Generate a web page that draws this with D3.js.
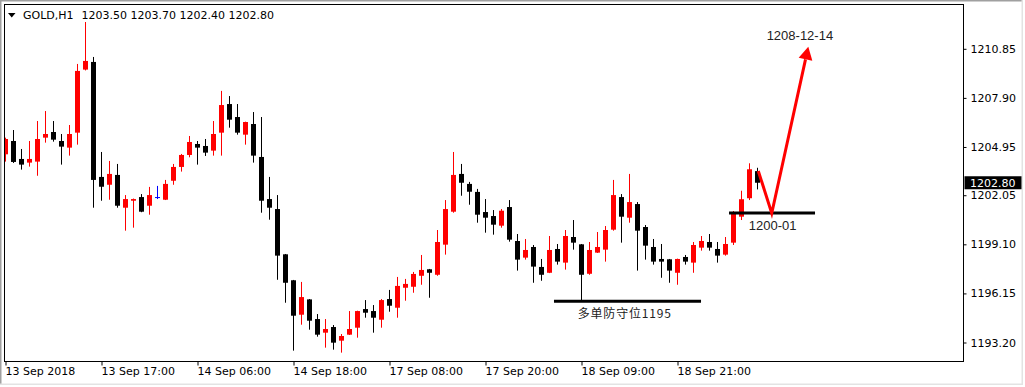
<html>
<head>
<script src="https://cdn.jsdelivr.net/npm/d3@7"></script>
<style>
    body {
        margin: 0;
        background: white;
        font-family: "DejaVu Sans", Tahoma, sans-serif;
    }
    svg {
        display: block;
    }
</style>
</head>
<body>
<svg id="chart"></svg>
<script>
    // GOLD H1 bars, one per hour
    let opens = [1204.51,1205.31,1204.23,1204.01,1204.07,1205.51,1205.85,1205.31,1204.91,1205.81,
        1209.60,1210.06,1203.15,1202.68,1203.27,1201.30,1201.72,1201.94,1201.42,1201.94,
        1201.78,1202.92,1203.75,1204.47,1205.13,1205.01,1204.73,1205.81,1207.53,1206.75,
        1205.69,1206.33,1204.35,1201.82,1201.22,1198.50,1196.94,1194.87,1195.79,1194.61,
        1193.79,1194.13,1193.31,1193.67,1194.09,1195.21,1195.09,1194.57,1195.81,1195.29,
        1196.49,1196.55,1197.21,1197.60,1197.27,1199.08,1201.06,1203.33,1202.73,1202.25,
        1201.04,1200.80,1200.22,1201.34,1199.30,1198.30,1198.94,1197.74,1197.39,1198.82,
        1198.00,1199.54,1199.10,1197.33,1198.60,1198.78,1199.98,1201.94,1200.70,1201.52,
        1200.14,1198.94,1198.22,1198.20,1197.39,1198.34,1198.00,1198.90,1199.24,1198.82,
        1198.48,1199.20,1200.76,1201.87,1203.50]
    let highs = [1205.51,1205.97,1204.83,1205.31,1206.51,1207.11,1206.51,1205.73,1206.27,1209.94,
        1212.46,1210.36,1204.65,1204.11,1203.93,1202.06,1201.85,1202.12,1202.55,1202.61,
        1202.97,1203.93,1204.53,1205.61,1205.31,1205.43,1206.51,1208.32,1208.01,1207.53,
        1206.47,1207.05,1206.75,1203.15,1202.06,1198.52,1196.96,1196.84,1195.81,1194.91,
        1194.61,1194.25,1193.71,1195.09,1195.11,1195.75,1195.45,1195.81,1196.36,1197.14,
        1197.02,1197.44,1198.46,1197.62,1199.96,1201.76,1204.65,1203.93,1202.85,1202.43,
        1201.82,1201.16,1201.22,1201.76,1199.72,1199.42,1199.06,1198.22,1199.60,1199.12,
        1199.96,1200.56,1199.12,1199.24,1199.84,1200.20,1202.97,1202.12,1203.33,1201.64,
        1200.26,1199.42,1199.12,1198.22,1198.24,1198.46,1199.24,1199.60,1199.72,1199.24,
        1199.54,1201.10,1202.32,1203.97,1203.70]
    let lows = [1204.07,1203.99,1203.59,1203.77,1203.22,1205.21,1205.27,1203.89,1204.43,1205.09,
        1209.55,1201.30,1201.72,1201.78,1201.30,1199.92,1200.10,1201.03,1200.88,1201.82,
        1201.76,1202.68,1203.47,1204.33,1203.89,1204.41,1204.43,1204.43,1206.11,1205.69,
        1205.09,1204.01,1201.00,1200.58,1196.97,1195.59,1192.71,1194.27,1193.97,1193.55,
        1192.89,1192.77,1192.59,1193.65,1193.49,1194.69,1193.79,1194.09,1195.05,1194.69,
        1195.71,1196.19,1196.67,1195.89,1197.21,1198.48,1201.00,1202.02,1201.48,1200.40,
        1199.80,1199.68,1200.10,1199.26,1197.52,1198.18,1196.79,1196.91,1197.37,1197.88,
        1197.58,1198.78,1195.71,1197.27,1198.58,1198.06,1199.92,1199.20,1200.40,1197.52,
        1198.18,1197.88,1197.09,1196.79,1196.67,1197.88,1197.39,1198.72,1198.72,1198.00,
        1198.42,1199.06,1200.56,1201.76,1202.40]
    let closes = [1205.43,1204.05,1203.89,1204.23,1205.43,1205.73,1205.39,1204.97,1205.73,1209.52,
        1210.12,1202.97,1202.56,1203.33,1201.42,1201.82,1201.82,1201.06,1202.06,1201.94,
        1202.73,1203.75,1204.47,1205.25,1204.91,1204.61,1205.73,1207.47,1206.59,1205.81,
        1206.45,1204.43,1201.72,1201.30,1198.42,1196.79,1194.81,1195.93,1194.51,1193.67,
        1194.01,1193.19,1193.59,1194.01,1195.09,1194.99,1194.69,1195.75,1195.41,1196.60,
        1196.72,1197.32,1197.56,1197.39,1199.24,1201.22,1203.27,1202.80,1202.26,1200.88,
        1200.70,1200.28,1201.12,1199.38,1198.18,1198.76,1197.76,1197.27,1198.76,1198.06,
        1199.60,1199.20,1197.27,1198.76,1198.94,1199.96,1202.06,1200.76,1201.64,1199.92,
        1199.02,1198.06,1198.06,1197.52,1198.22,1198.06,1199.06,1199.30,1198.90,1198.42,
        1199.12,1200.98,1201.81,1203.61,1202.80]

    let priceTicks = [1210.85, 1207.90, 1204.95, 1202.05, 1199.10, 1196.15, 1193.20]
    let timeTickBars = [0, 12, 24, 36, 48, 60, 72, 84]
    let timeTickLabels = ["13 Sep 2018", "13 Sep 17:00", "14 Sep 06:00", "14 Sep 18:00",
        "17 Sep 08:00", "17 Sep 20:00", "18 Sep 09:00", "18 Sep 21:00"]

    let symbolName = "GOLD,H1"
    let lastPrice = 1202.80

    // hand drawn objects on the chart, [bar index, price]
    let supportLines = [
        {from: [68.56, 1195.68], to: [86.94, 1195.68], text: "多单防守位1195", textAt: [77.4, 1194.67]},
        {from: [90.44, 1200.98], to: [101.19, 1200.98], text: "1200-01", textAt: [95.9, 1199.96]}
    ]
    let forecastPath = [[94.1, 1203.51], [95.78, 1200.97], [100.35, 1210.98]]
    let forecastLabel = {text: "1208-12-14", at: [99.3, 1211.38]}

    function getChartConfig() {
        let width = 1025
        let height = 387
        // plot frame of the terminal window
        let frame = {left: 4.5, top: 4.5, right: 963.5, bottom: 361.5}
        let container = d3.select("#chart")
            .attr("width", width)
            .attr("height", height)
        return {width, height, frame, container}
    }

    function getChartScales(config) {
        // 8px per hourly bar, first bar half cut by the frame
        let xScale = d3.scaleLinear()
            .domain([0, 1])
            .range([5.5, 13.5])
        let yScale = d3.scaleLinear()
            .domain([1193.20, 1210.85])
            .range([342.5, 48.8])
        return {xScale, yScale}
    }

    function drawFrame(config) {
        let {container, frame, width, height} = config
        // window borders
        container.append("rect").attr("x", 0).attr("y", 0).attr("width", width).attr("height", height).attr("fill", "white")
        container.append("rect").attr("x", 0).attr("y", 0).attr("width", 1.5).attr("height", 385).attr("fill", "#a0a0a0")
        container.append("rect").attr("x", 0).attr("y", 0).attr("width", 1023).attr("height", 1.5).attr("fill", "#a0a0a0")
        container.append("rect").attr("x", 1021.5).attr("y", 0).attr("width", 1.5).attr("height", 385).attr("fill", "#e3e3e3")
        container.append("rect").attr("x", 0).attr("y", 383.5).attr("width", 1023).attr("height", 1.5).attr("fill", "#e3e3e3")

        container.append("rect")
            .attr("x", frame.left)
            .attr("y", frame.top)
            .attr("width", frame.right - frame.left)
            .attr("height", frame.bottom - frame.top)
            .attr("fill", "none")
            .attr("stroke", "black")
            .attr("stroke-width", 1)

        container.append("clipPath").attr("id", "plotClip")
            .append("rect")
            .attr("x", frame.left + 0.5)
            .attr("y", frame.top + 0.5)
            .attr("width", frame.right - frame.left - 1)
            .attr("height", frame.bottom - frame.top - 1)
    }

    function drawCandles(scales, config) {
        let {xScale, yScale} = scales
        let bars = opens.map((o, i) => ({i, o, h: highs[i], l: lows[i], c: closes[i]}))
        let colorOf = d => d.c > d.o ? "#ff0000" : (d.c < d.o ? "#000000" : "#0000ff")

        let body = config.container.append("g").attr("clip-path", "url(#plotClip)")
        let candles = body.selectAll(".candle")
            .data(bars)
            .enter().append("g")
            .attr("class", "candle")

        candles.append("line")
            .attr("x1", d => xScale(d.i))
            .attr("x2", d => xScale(d.i))
            .attr("y1", d => yScale(d.h))
            .attr("y2", d => yScale(d.l))
            .attr("stroke", colorOf)
            .attr("stroke-width", 1)

        candles.append("rect")
            .attr("x", d => xScale(d.i) - 2.5)
            .attr("width", 5)
            .attr("y", d => yScale(Math.max(d.o, d.c)))
            .attr("height", d => Math.max(1, yScale(Math.min(d.o, d.c)) - yScale(Math.max(d.o, d.c))))
            .attr("fill", colorOf)
    }

    function drawAxes(scales, config) {
        let {xScale, yScale} = scales
        let {container, frame} = config

        let axisY = d3.axisRight(yScale)
            .tickValues(priceTicks)
            .tickFormat(d3.format(".2f"))
            .tickSize(3)
            .tickPadding(4)
        let gy = container.append("g")
            .attr("transform", `translate(${frame.right},0)`)
            .call(axisY)
        gy.select(".domain").remove()
        gy.selectAll("text").attr("font-size", 11).attr("font-family", "DejaVu Sans").attr("fill", "black")

        // current price marker
        let yLast = yScale(lastPrice)
        container.append("rect")
            .attr("x", frame.right + 1)
            .attr("y", yLast - 6.5)
            .attr("width", 57)
            .attr("height", 13)
            .attr("fill", "black")
        container.append("text")
            .attr("x", 970)
            .attr("y", yLast)
            .attr("dy", "0.36em")
            .attr("font-size", 11)
            .attr("fill", "white")
            .text(lastPrice.toFixed(2))

        let axisX = d3.axisBottom(xScale)
            .tickValues(timeTickBars)
            .tickFormat((d, i) => timeTickLabels[i])
            .tickSize(4)
        let gx = container.append("g")
            .attr("transform", `translate(0,${frame.bottom})`)
            .call(axisX)
        gx.select(".domain").remove()
        gx.selectAll("text")
            .attr("text-anchor", "start")
            .attr("x", -0.5)
            .attr("y", 6)
            .attr("font-size", 11)
            .attr("font-family", "DejaVu Sans")
            .attr("fill", "black")
    }

    function drawHeader(config) {
        let {container} = config
        container.append("path")
            .attr("d", "M8,13 L15.5,13 L11.75,17.5 Z")
            .attr("fill", "black")
        container.append("text")
            .attr("x", 23)
            .attr("y", 18.5)
            .attr("font-size", 11)
            .text(symbolName)
        container.append("text")
            .attr("x", 81.5)
            .attr("y", 18.5)
            .attr("font-size", 11)
            .text([opens[94], highs[94], lows[94], closes[94]].map(v => v.toFixed(2)).join(" "))
    }

    function drawAnnotations(scales, config) {
        let {xScale, yScale} = scales
        let {container} = config
        let pt = p => [xScale(p[0]), yScale(p[1])]

        supportLines.forEach(s => {
            container.append("line")
                .attr("x1", pt(s.from)[0]).attr("y1", pt(s.from)[1])
                .attr("x2", pt(s.to)[0]).attr("y2", pt(s.to)[1])
                .attr("stroke", "black")
                .attr("stroke-width", 3)
        })

        // red forecast zig-zag with an arrow head
        let pts = forecastPath.map(pt)
        let tip = pts[pts.length - 1]
        let prev = pts[pts.length - 2]
        let len = Math.hypot(tip[0] - prev[0], tip[1] - prev[1])
        let ux = (tip[0] - prev[0]) / len, uy = (tip[1] - prev[1]) / len
        let headLen = 13, headHalf = 7
        let base = [tip[0] - ux * headLen, tip[1] - uy * headLen]
        let linePts = pts.slice(0, -1).concat([base])
        container.append("path")
            .attr("d", d3.line()(linePts))
            .attr("fill", "none")
            .attr("stroke", "#ff0000")
            .attr("stroke-width", 3)
            .attr("stroke-linejoin", "miter")
        container.append("path")
            .attr("d", d3.line()([tip, [base[0] - uy * headHalf, base[1] + ux * headHalf], [base[0] + uy * headHalf, base[1] - ux * headHalf]]) + "Z")
            .attr("fill", "#ff0000")

        container.append("text")
            .attr("x", pt(supportLines[0].textAt)[0])
            .attr("y", pt(supportLines[0].textAt)[1])
            .attr("text-anchor", "middle")
            .attr("font-family", "Noto Sans CJK SC")
            .attr("font-size", 12)
            .attr("letter-spacing", 0.8)
            .attr("fill", "#222")
            .text(supportLines[0].text)
        container.append("text")
            .attr("x", pt(supportLines[1].textAt)[0])
            .attr("y", pt(supportLines[1].textAt)[1])
            .attr("text-anchor", "middle")
            .attr("font-family", "Liberation Sans")
            .attr("font-size", 13)
            .attr("fill", "#222")
            .text(supportLines[1].text)
        container.append("text")
            .attr("x", pt(forecastLabel.at)[0])
            .attr("y", pt(forecastLabel.at)[1])
            .attr("text-anchor", "middle")
            .attr("font-family", "Liberation Sans")
            .attr("font-size", 13)
            .attr("fill", "#222")
            .text(forecastLabel.text)
    }

    function drawChart() {
        let config = getChartConfig()
        let scales = getChartScales(config)
        drawFrame(config)
        drawCandles(scales, config)
        drawAxes(scales, config)
        drawHeader(config)
        drawAnnotations(scales, config)
    }

    drawChart()
</script>
</body>
</html>
